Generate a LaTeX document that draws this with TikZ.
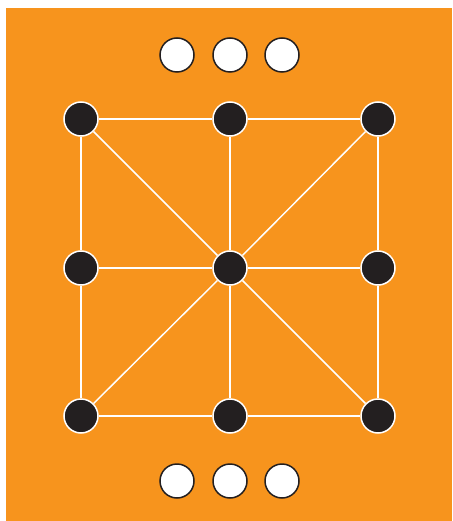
\documentclass[tikz,border=0pt]{standalone}
\definecolor{boardorange}{HTML}{F7941D}
\definecolor{stonedark}{HTML}{231F20}
\begin{document}
\begin{tikzpicture}[x=1pt,y=-1pt,
  spot/.style={circle,fill=stonedark,draw=white,line width=1.5pt,minimum size=34pt,inner sep=0pt},
  piece/.style={circle,fill=white,draw=stonedark,line width=1.5pt,minimum size=34pt,inner sep=0pt},
  link/.style={draw=white,line width=1.5pt}]
\useasboundingbox (0,0) rectangle (452,521);
\fill[boardorange] (6,8) rectangle (452,521);
\node[spot] (a1) at (81,119) {}; \node[spot] (a2) at (230,119) {}; \node[spot] (a3) at (378,119) {};
\node[spot] (b1) at (81,268) {}; \node[spot] (b2) at (230,268) {}; \node[spot] (b3) at (378,268) {};
\node[spot] (c1) at (81,416) {}; \node[spot] (c2) at (230,416) {}; \node[spot] (c3) at (378,416) {};
\draw[link] (a1) -- (a2); \draw[link] (a2) -- (a3);
\draw[link] (b1) -- (b2); \draw[link] (b2) -- (b3);
\draw[link] (c1) -- (c2); \draw[link] (c2) -- (c3);
\draw[link] (a1) -- (b1); \draw[link] (b1) -- (c1);
\draw[link] (a2) -- (b2); \draw[link] (b2) -- (c2);
\draw[link] (a3) -- (b3); \draw[link] (b3) -- (c3);
\draw[link] (a1) -- (b2); \draw[link] (b2) -- (c3);
\draw[link] (a3) -- (b2); \draw[link] (b2) -- (c1);
\node[piece] (t1) at (177,55) {};
\node[piece] (t2) at (230,55) {};
\node[piece] (t3) at (282,55) {};
\node[piece] (u1) at (177,481) {};
\node[piece] (u2) at (230,481) {};
\node[piece] (u3) at (282,481) {};
\end{tikzpicture}
\end{document}
